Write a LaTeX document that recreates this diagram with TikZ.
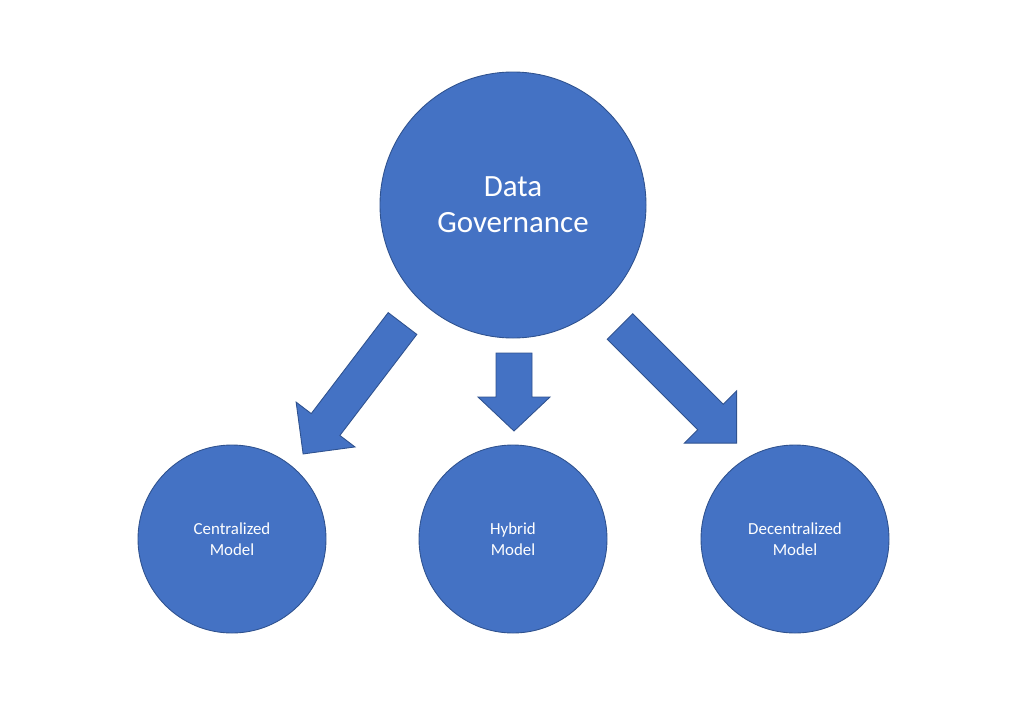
\documentclass[tikz,border=0pt]{standalone}
\usepackage{fontspec}
\setmainfont{Carlito}
\definecolor{offblue}{HTML}{4472C4}
\definecolor{offedge}{HTML}{2F528F}
\tikzset{
  bubble/.style={circle, fill=offblue, draw=offedge, line width=0.5pt, text=white, align=center, inner sep=0pt},
  bigbubble/.style={bubble, minimum size=266*0.02cm, font=\fontsize{17.6}{20.4}\selectfont},
  smallbubble/.style={bubble, minimum size=188*0.02cm, font=\fontsize{9.6}{12}\selectfont},
  blockarrow/.style={fill=offblue, draw=offedge, line width=0.5pt, line join=miter}
}
% #1 x, #2 y (tail mid, pixel coords), #3 canvas angle, #4 length, #5 head length, #6 shaft half width, #7 head half width
\newcommand\myblockarrow[7]{%
  \begin{scope}[shift={(#1,#2)}, rotate=#3]
    \draw[blockarrow] (0,-#6) -- ({#4-#5},-#6) -- ({#4-#5},-#7) -- (#4,0) -- ({#4-#5},#7) -- ({#4-#5},#6) -- (0,#6) -- cycle;
  \end{scope}}
\begin{document}
\begin{tikzpicture}[x=0.02cm, y=-0.02cm]
\useasboundingbox (0,0) rectangle (1024,703);
\node[bigbubble] (gov) at (513,205) {Data\\Governance};
\node[smallbubble] (cent) at (232,539) {Centralized\\Model};
\node[smallbubble] (hyb) at (513,539) {Hybrid\\Model};
\node[smallbubble] (dec) at (795,539) {Decentralized\\Model};
\myblockarrow{402.5}{323.5}{232.7}{164}{37}{18}{37}
\myblockarrow{514}{353}{270}{78}{34}{18}{36}
\myblockarrow{620}{326.5}{315}{165}{37}{18}{37}
\end{tikzpicture}
\end{document}
